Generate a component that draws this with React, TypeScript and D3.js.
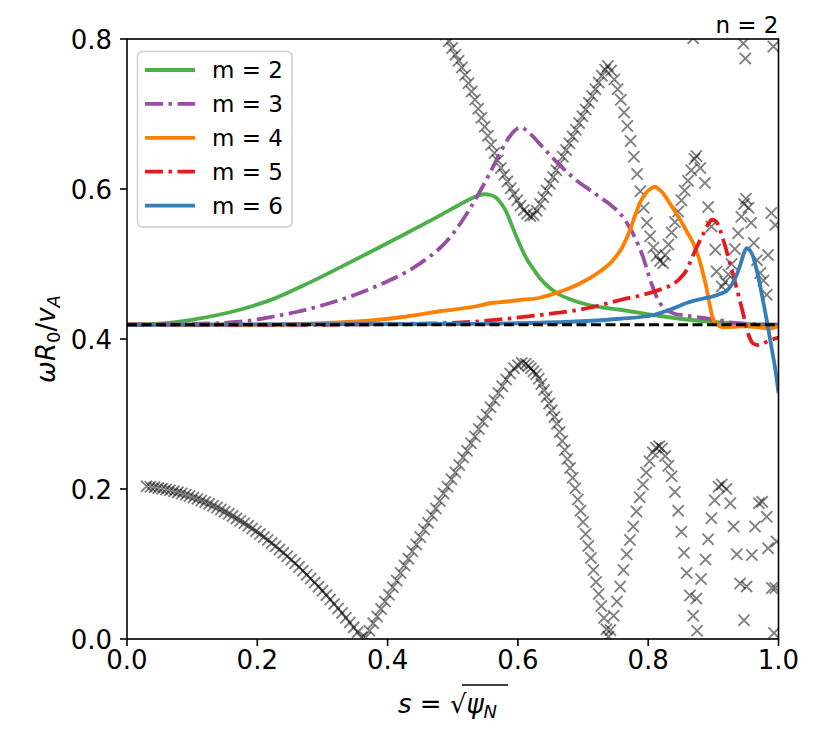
import React from 'react';
import * as d3 from 'd3';

const W = 830;
const H = 755;
const PL = 127, PR = 778.5, PT = 39, PB = 639;

const xTicks = [0, 0.2, 0.4, 0.6, 0.8, 1.0];
const xTickLabels = ['0.0', '0.2', '0.4', '0.6', '0.8', '1.0'];
const yTicks = [0, 0.2, 0.4, 0.6, 0.8];
const yTickLabels = ['0.0', '0.2', '0.4', '0.6', '0.8'];
const titleText = 'n = 2';

const modeLabels = ['m = 2', 'm = 3', 'm = 4', 'm = 5', 'm = 6'];
const modeColors = ['#4daf4a', '#984ea3', '#ff7f00', '#e41a1c', '#377eb8'];
const modeDash = ['', '18,5.5,3.5,5.5', '', '18,5.5,3.5,5.5', ''];

const taeFreq = 0.419;

// eigenfunction frequency curves [s, omega]
const m2 = [[0, 0.419], [0.06, 0.4212], [0.112, 0.4275], [0.173, 0.439], [0.225, 0.4535], [0.276, 0.4735], [0.327, 0.4955], [0.378, 0.518], [0.429, 0.541], [0.48, 0.5645], [0.521, 0.584], [0.535, 0.59], [0.548, 0.593], [0.558, 0.592], [0.567, 0.588], [0.575, 0.58], [0.583, 0.568], [0.59, 0.553], [0.598, 0.536], [0.606, 0.52], [0.614, 0.506], [0.624, 0.493], [0.634, 0.481], [0.645, 0.471], [0.66, 0.461], [0.68, 0.453], [0.706, 0.446], [0.73, 0.442], [0.757, 0.439], [0.808, 0.432], [0.859, 0.426], [0.91, 0.422], [0.95, 0.42], [1.0, 0.419]];
const m3 = [[0, 0.419], [0.1, 0.42], [0.173, 0.423], [0.225, 0.43], [0.26, 0.436], [0.3, 0.445], [0.35, 0.459], [0.4, 0.477], [0.43, 0.49], [0.46, 0.507], [0.48, 0.521], [0.5, 0.54], [0.52, 0.565], [0.54, 0.594], [0.555, 0.618], [0.568, 0.64], [0.58, 0.66], [0.59, 0.673], [0.598, 0.68], [0.605, 0.682], [0.612, 0.679], [0.622, 0.671], [0.639, 0.655], [0.665, 0.631], [0.68, 0.619], [0.695, 0.608], [0.71, 0.599], [0.726, 0.589], [0.742, 0.579], [0.757, 0.567], [0.767, 0.555], [0.777, 0.54], [0.785, 0.525], [0.793, 0.507], [0.8, 0.487], [0.807, 0.469], [0.813, 0.456], [0.818, 0.448], [0.828, 0.439], [0.839, 0.434], [0.859, 0.431], [0.885, 0.428], [0.91, 0.425], [0.936, 0.421], [0.96, 0.42], [1.0, 0.419]];
const m4 = [[0, 0.419], [0.2, 0.419], [0.3, 0.421], [0.378, 0.425], [0.429, 0.43], [0.48, 0.437], [0.532, 0.443], [0.56, 0.448], [0.583, 0.45], [0.603, 0.452], [0.634, 0.455], [0.654, 0.46], [0.68, 0.468], [0.706, 0.479], [0.726, 0.49], [0.746, 0.505], [0.76, 0.522], [0.772, 0.545], [0.78, 0.565], [0.787, 0.581], [0.795, 0.593], [0.803, 0.6], [0.81, 0.603], [0.816, 0.6], [0.823, 0.594], [0.836, 0.577], [0.849, 0.559], [0.86, 0.542], [0.869, 0.528], [0.877, 0.51], [0.884, 0.488], [0.89, 0.466], [0.895, 0.443], [0.899, 0.428], [0.905, 0.42], [0.913, 0.416], [0.925, 0.416], [0.95, 0.417], [0.975, 0.415], [0.987, 0.414], [1.0, 0.417]];
const m5 = [[0, 0.419], [0.3, 0.419], [0.4, 0.42], [0.48, 0.421], [0.532, 0.423], [0.583, 0.427], [0.634, 0.432], [0.68, 0.437], [0.706, 0.441], [0.757, 0.452], [0.808, 0.463], [0.839, 0.474], [0.848, 0.48], [0.859, 0.492], [0.869, 0.512], [0.877, 0.527], [0.885, 0.541], [0.892, 0.553], [0.898, 0.559], [0.904, 0.557], [0.91, 0.546], [0.916, 0.53], [0.922, 0.512], [0.929, 0.49], [0.936, 0.467], [0.941, 0.45], [0.946, 0.433], [0.951, 0.414], [0.956, 0.401], [0.961, 0.394], [0.968, 0.392], [0.976, 0.394], [0.986, 0.398], [1.0, 0.402]];
const m6 = [[0, 0.419], [0.5, 0.42], [0.603, 0.421], [0.68, 0.423], [0.706, 0.424], [0.757, 0.427], [0.808, 0.432], [0.833, 0.439], [0.859, 0.448], [0.885, 0.454], [0.9, 0.457], [0.91, 0.46], [0.92, 0.464], [0.928, 0.472], [0.936, 0.486], [0.941, 0.498], [0.946, 0.512], [0.951, 0.521], [0.957, 0.517], [0.961, 0.51], [0.967, 0.49], [0.972, 0.47], [0.977, 0.448], [0.982, 0.425], [0.989, 0.39], [0.995, 0.36], [1.0, 0.328]];
const modes = [m2, m3, m4, m5, m6];

// Alfven continuum points [s, omega]
const contA = [[0.030, 0.2036], [0.036, 0.2030], [0.042, 0.2022], [0.048, 0.2014], [0.054, 0.2004], [0.060, 0.1994], [0.066, 0.1982], [0.072, 0.1969], [0.078, 0.1955], [0.084, 0.1940], [0.090, 0.1923], [0.096, 0.1906], [0.102, 0.1887], [0.108, 0.1868], [0.114, 0.1847], [0.120, 0.1825], [0.126, 0.1802], [0.132, 0.1777], [0.138, 0.1752], [0.144, 0.1726], [0.150, 0.1698], [0.156, 0.1669], [0.162, 0.1639], [0.168, 0.1608], [0.174, 0.1576], [0.180, 0.1543], [0.186, 0.1509], [0.192, 0.1473], [0.198, 0.1437], [0.204, 0.1399], [0.210, 0.1360], [0.216, 0.1320], [0.222, 0.1279], [0.228, 0.1237], [0.234, 0.1193], [0.240, 0.1149], [0.246, 0.1103], [0.252, 0.1057], [0.258, 0.1009], [0.264, 0.0960], [0.270, 0.0910], [0.276, 0.0858], [0.282, 0.0806], [0.288, 0.0752], [0.294, 0.0698], [0.300, 0.0642], [0.306, 0.0585], [0.312, 0.0527], [0.318, 0.0468], [0.324, 0.0408], [0.330, 0.0346], [0.336, 0.0284], [0.342, 0.0220], [0.348, 0.0155], [0.354, 0.0090], [0.360, 0.0022]];
const contB = [[0.366, 0.002], [0.372, 0.011], [0.378, 0.021], [0.384, 0.030], [0.390, 0.040], [0.396, 0.050], [0.402, 0.059], [0.408, 0.069], [0.414, 0.078], [0.420, 0.088], [0.426, 0.098], [0.432, 0.107], [0.438, 0.117], [0.444, 0.126], [0.450, 0.136], [0.456, 0.146], [0.462, 0.155], [0.468, 0.165], [0.474, 0.174], [0.480, 0.184], [0.486, 0.194], [0.492, 0.203], [0.498, 0.213], [0.504, 0.222], [0.510, 0.232], [0.516, 0.242], [0.522, 0.251], [0.528, 0.261], [0.534, 0.270], [0.540, 0.280], [0.546, 0.290], [0.552, 0.299], [0.558, 0.309], [0.564, 0.318], [0.570, 0.328], [0.576, 0.337], [0.582, 0.346], [0.588, 0.354], [0.594, 0.361], [0.600, 0.365], [0.606, 0.368]];
const contC = [[0.612, 0.367], [0.616, 0.364], [0.620, 0.361], [0.624, 0.357], [0.628, 0.353], [0.632, 0.347], [0.636, 0.340], [0.640, 0.332], [0.644, 0.323], [0.648, 0.314], [0.652, 0.305], [0.656, 0.296], [0.660, 0.287], [0.664, 0.276], [0.668, 0.264], [0.672, 0.252], [0.676, 0.240], [0.680, 0.228], [0.684, 0.215], [0.688, 0.201], [0.692, 0.186], [0.696, 0.171], [0.700, 0.156], [0.704, 0.140], [0.708, 0.124], [0.712, 0.108], [0.716, 0.092], [0.720, 0.076], [0.724, 0.060], [0.728, 0.044], [0.732, 0.028], [0.736, 0.013], [0.739, 0.003]];
const contD = [[0.742, 0.012], [0.747, 0.031], [0.752, 0.050], [0.757, 0.070], [0.762, 0.092], [0.767, 0.113], [0.772, 0.132], [0.777, 0.150], [0.782, 0.170], [0.787, 0.189], [0.792, 0.206], [0.797, 0.222], [0.802, 0.237], [0.807, 0.249], [0.812, 0.255], [0.817, 0.257]];
const contE = [[0.821, 0.254], [0.826, 0.244], [0.831, 0.231], [0.836, 0.217], [0.841, 0.196], [0.846, 0.171], [0.851, 0.143], [0.855, 0.115], [0.859, 0.088], [0.864, 0.058], [0.869, 0.031], [0.875, 0.011]];
const contF = [[0.874, 0.054], [0.881, 0.080], [0.888, 0.106], [0.892, 0.133], [0.897, 0.161], [0.902, 0.185], [0.908, 0.203], [0.913, 0.206], [0.920, 0.200]];
const contG = [[0.926, 0.181], [0.931, 0.150], [0.936, 0.113], [0.941, 0.074], [0.947, 0.025]];
const contH = [[0.951, 0.070], [0.959, 0.112], [0.964, 0.150], [0.970, 0.181], [0.975, 0.183]];
const contI = [[0.982, 0.163], [0.984, 0.121], [0.990, 0.068], [0.993, 0.008], [0.997, 0.130], [0.995, 0.068]];
const contU1 = [[0.484, 0.815], [0.489, 0.806], [0.494, 0.797], [0.499, 0.788], [0.504, 0.779], [0.509, 0.771], [0.514, 0.762], [0.519, 0.752], [0.524, 0.741], [0.529, 0.730], [0.534, 0.719], [0.539, 0.707], [0.544, 0.695], [0.549, 0.683], [0.554, 0.671], [0.559, 0.659], [0.564, 0.648], [0.569, 0.638], [0.574, 0.628], [0.579, 0.619], [0.584, 0.610], [0.589, 0.601], [0.594, 0.593], [0.599, 0.585], [0.604, 0.578], [0.609, 0.572], [0.614, 0.567], [0.619, 0.564], [0.624, 0.565]];
const contU2 = [[0.629, 0.571], [0.634, 0.580], [0.639, 0.589], [0.644, 0.598], [0.649, 0.607], [0.654, 0.616], [0.659, 0.625], [0.664, 0.634], [0.669, 0.643], [0.674, 0.652], [0.679, 0.661], [0.684, 0.670], [0.689, 0.679], [0.694, 0.688], [0.699, 0.697], [0.704, 0.706], [0.709, 0.715], [0.714, 0.724], [0.719, 0.733], [0.724, 0.742], [0.729, 0.751], [0.734, 0.759], [0.738, 0.764]];
const contU3 = [[0.743, 0.758], [0.748, 0.746], [0.753, 0.733], [0.758, 0.719], [0.763, 0.702], [0.768, 0.684], [0.773, 0.664], [0.778, 0.643], [0.783, 0.620], [0.788, 0.597], [0.793, 0.575], [0.798, 0.555], [0.803, 0.537], [0.808, 0.522], [0.813, 0.511], [0.818, 0.504], [0.823, 0.501]];
const contU4 = [[0.826, 0.512], [0.831, 0.526], [0.836, 0.542], [0.841, 0.556], [0.846, 0.570], [0.851, 0.585], [0.856, 0.598], [0.861, 0.611], [0.866, 0.625], [0.871, 0.640], [0.874, 0.644]];
const contU5 = [[0.880, 0.628], [0.887, 0.608], [0.892, 0.576], [0.897, 0.550], [0.903, 0.519], [0.905, 0.490], [0.913, 0.470]];
const contU6 = [[0.918, 0.476], [0.923, 0.486], [0.928, 0.500], [0.933, 0.520], [0.938, 0.541], [0.943, 0.563], [0.947, 0.580], [0.950, 0.587]];
const contU7 = [[0.954, 0.575], [0.958, 0.555], [0.962, 0.528], [0.967, 0.505], [0.972, 0.488], [0.977, 0.478], [0.982, 0.459], [0.984, 0.512], [0.989, 0.568], [0.995, 0.552]];
const contTop = [[0.869, 0.801], [0.946, 0.794], [0.949, 0.774], [0.992, 0.790]];
const continuum = [contA, contB, contC, contD, contE, contF, contG, contH, contI, contU1, contU2, contU3, contU4, contU5, contU6, contU7, contTop];

const FONT = 'DejaVu Sans';
const FT = 26;
const FL = 23;
const LW = 3.8;

export default function App() {
  const x = d3.scaleLinear().domain([0, 1]).range([PL, PR]);
  const y = d3.scaleLinear().domain([0, 0.8]).range([PB, PT]);
  const line = d3.line<number[]>().x((d) => x(d[0])).y((d) => y(d[1])).curve(d3.curveMonotoneX);
  const pts = continuum.flat();
  const ms = 5.6;
  const xMark = `M${-ms},${-ms}L${ms},${ms}M${-ms},${ms}L${ms},${-ms}`;
  const legX = 137.5, legY = 51.5, legW = 154.5, legH = 175.5;
  const rowY = (i: number) => 70 + i * 33.9;

  return (
    <svg width={W} height={H} style={{ position: 'absolute', left: 0, top: 0, background: '#fff' }} fontFamily={FONT}>
      <defs>
        <clipPath id="plotclip">
          <rect x={PL} y={PT} width={PR - PL} height={PB - PT} />
        </clipPath>
      </defs>
      <rect x={0} y={0} width={W} height={H} fill="#fff" />
      <g clipPath="url(#plotclip)">
        {pts.map((p, i) => (
          <path key={i} d={xMark} transform={`translate(${x(p[0])},${y(p[1])})`} stroke="#000" strokeOpacity={0.5} strokeWidth={1.9} fill="none" />
        ))}
        {modes.map((m, i) => (
          <path key={i} d={line(m as any) || ''} fill="none" stroke={modeColors[i]} strokeWidth={LW} strokeDasharray={modeDash[i] || undefined} strokeLinejoin="round" />
        ))}
        <line x1={x(0)} x2={x(1)} y1={y(taeFreq)} y2={y(taeFreq)} stroke="#000" strokeWidth={3} strokeDasharray="10,4.5" />
      </g>
      {/* spines */}
      <rect x={PL} y={PT} width={PR - PL} height={PB - PT} fill="none" stroke="#000" strokeWidth={1.6} />
      {/* x ticks */}
      {xTicks.map((t, i) => (
        <g key={i}>
          <line x1={x(t)} x2={x(t)} y1={PB} y2={PB + 7} stroke="#000" strokeWidth={1.6} />
          <text x={x(t)} y={PB + 30} textAnchor="middle" fontSize={FT}>{xTickLabels[i]}</text>
        </g>
      ))}
      {yTicks.map((t, i) => (
        <g key={i}>
          <line x1={PL - 7} x2={PL} y1={y(t)} y2={y(t)} stroke="#000" strokeWidth={1.6} />
          <text x={PL - 15} y={y(t) + 9.5} textAnchor="end" fontSize={FT}>{yTickLabels[i]}</text>
        </g>
      ))}
      {/* title */}
      <text x={PR} y={33} textAnchor="end" fontSize={FL}>{titleText}</text>
      {/* x label */}
      <text x={398} y={713} fontSize={FT}>
        <tspan fontStyle="italic">s</tspan>
        <tspan> = </tspan>
        <tspan>√</tspan>
        <tspan fontStyle="italic">ψ</tspan>
        <tspan fontStyle="italic" fontSize={18} dy={5}>N</tspan>
      </text>
      <line x1={462} x2={508} y1={685} y2={685} stroke="#000" strokeWidth={1.6} />
      {/* y label */}
      <text transform="translate(55,339) rotate(-90)" textAnchor="middle" fontSize={FT}>
        <tspan fontStyle="italic">ωR</tspan>
        <tspan fontSize={18} dy={5}>0</tspan>
        <tspan dy={-5}>/</tspan>
        <tspan fontStyle="italic">v</tspan>
        <tspan fontStyle="italic" fontSize={18} dy={5}>A</tspan>
      </text>
      {/* legend */}
      <rect x={legX} y={legY} width={legW} height={legH} rx={5} fill="#fff" fillOpacity={0.8} stroke="#cccccc" strokeWidth={1.4} />
      {modeLabels.map((lab, i) => (
        <g key={i}>
          <line x1={145} x2={195} y1={rowY(i)} y2={rowY(i)} stroke={modeColors[i]} strokeWidth={LW} strokeDasharray={modeDash[i] || undefined} />
          <text x={212} y={rowY(i) + 8} fontSize={FL}>{lab}</text>
        </g>
      ))}
    </svg>
  );
}
